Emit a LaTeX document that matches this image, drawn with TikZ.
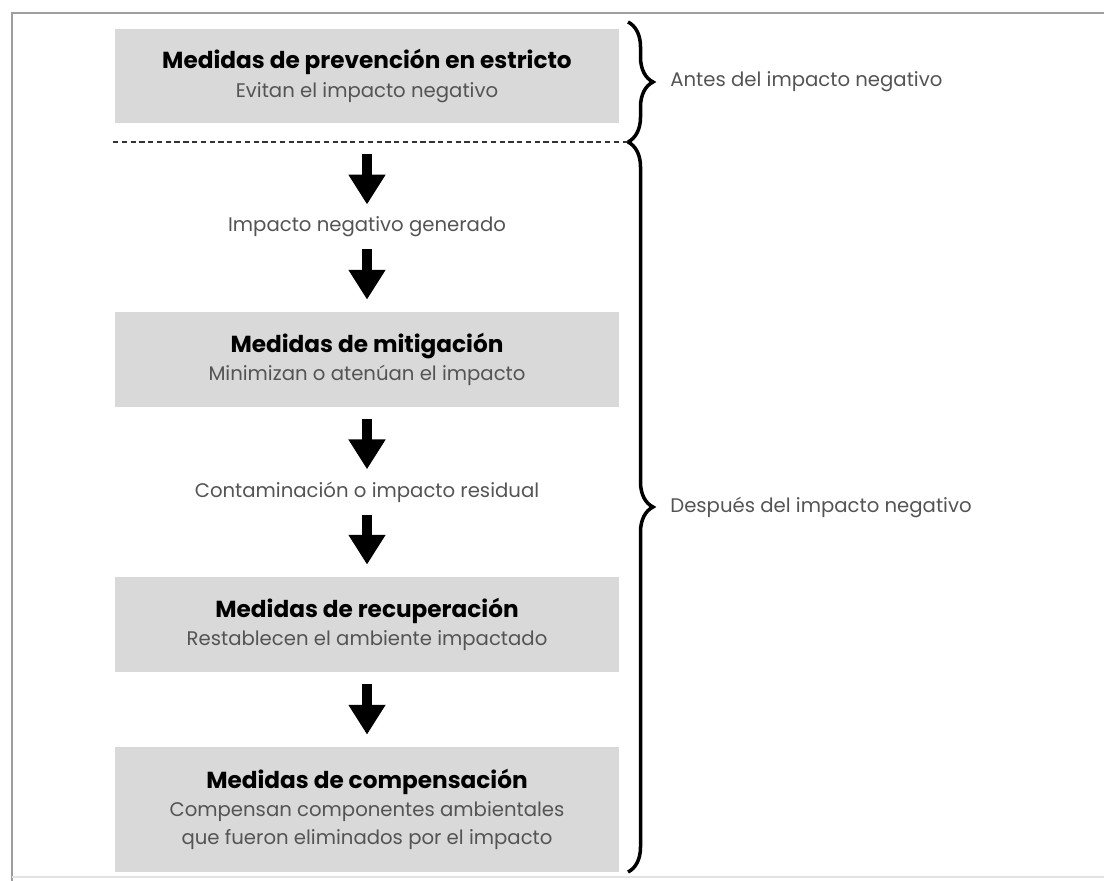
\documentclass[tikz,border=0pt]{standalone}
\usepackage{fontspec}
\setmainfont{Poppins}
\usepackage{tikz}
\usetikzlibrary{arrows.meta,calc,positioning,decorations.pathreplacing}
\definecolor{boxgray}{rgb}{0.85,0.85,0.85}
\definecolor{txtgray}{rgb}{0.33,0.33,0.33}
\definecolor{framegray}{rgb}{0.62,0.62,0.62}
\tikzstyle{medida}=[fill=boxgray,minimum width=10.1cm,minimum height=1.9cm,align=center,
                inner sep=0pt,font=\fontsize{11.2}{16}\selectfont,text=txtgray]
\tikzstyle{paso}=[minimum height=0.4cm,inner sep=0pt,font=\fontsize{11.2}{16}\selectfont,text=txtgray]
\tikzstyle{flecha}=[-{Triangle[width=20pt,length=17pt]},line width=6.2pt,
                shorten <=0.24cm,shorten >=0.24cm]
\tikzstyle{llave}=[decorate,decoration={brace,amplitude=0.5cm},line width=2pt]
\tikzstyle{etapa}=[anchor=west,inner sep=0pt,font=\fontsize{11.2}{16}\selectfont,text=txtgray]
\tikzstyle{corte}=[black!80,line width=1.4pt,dash pattern=on 3pt off 2pt]
\newcommand{\titulo}[1]{{\bfseries\color{black}\fontsize{13.2}{16}\selectfont #1}}

\begin{document}
\begin{tikzpicture}[x=0.02cm,y=-0.02cm]
\useasboundingbox (0,0) rectangle (1104,881);

% % % % % % % % % % % % % % %
% marco
\draw[framegray,line width=1.2pt] (1104,13) -- (12,13) -- (12,881);
\draw[framegray!30,line width=1pt] (12,877) -- (1104,877);

% % % % % % % % % % % % % % %
% medidas

\node[medida] (prev) at (367,76) {\titulo{Medidas de prevención en estricto}\\Evitan el impacto negativo};

\coordinate (corteL) at (113,142);
\coordinate (corteC) at (367,142);
\coordinate (corteR) at (628,142);
\draw[corte] (corteL) -- (corteR);

\node[paso] (gen) at (367,227) {Impacto negativo generado};
\node[medida] (mit) at (367,359.5) {\titulo{Medidas de mitigación}\\Minimizan o atenúan el impacto};
\node[paso] (res) at (367,492) {Contaminación o impacto residual};
\node[medida] (rec) at (367,624.5) {\titulo{Medidas de recuperación}\\Restablecen el ambiente impactado};
\node[medida,minimum height=2.5cm] (comp) at (367,809.5) {\titulo{Medidas de compensación}\\Compensan componentes ambientales\\que fueron eliminados por el impacto};

\draw[flecha] (corteC) -- (gen);
\draw[flecha] (gen) -- (mit);
\draw[flecha] (mit) -- (res);
\draw[flecha] (res) -- (rec);
\draw[flecha] (rec) -- (comp);

% % % % % % % % % % % % % % %
% llaves

\coordinate (antesA) at (628,22);
\coordinate (despuesB) at (628,872);
\draw[llave] (antesA) -- (corteR);
\draw[llave] (corteR) -- (despuesB);

\node[etapa] (antes) at (670,82) {Antes del impacto negativo};
\node[etapa] (despues) at (670,507) {Después del impacto negativo};

\end{tikzpicture}
\end{document}
